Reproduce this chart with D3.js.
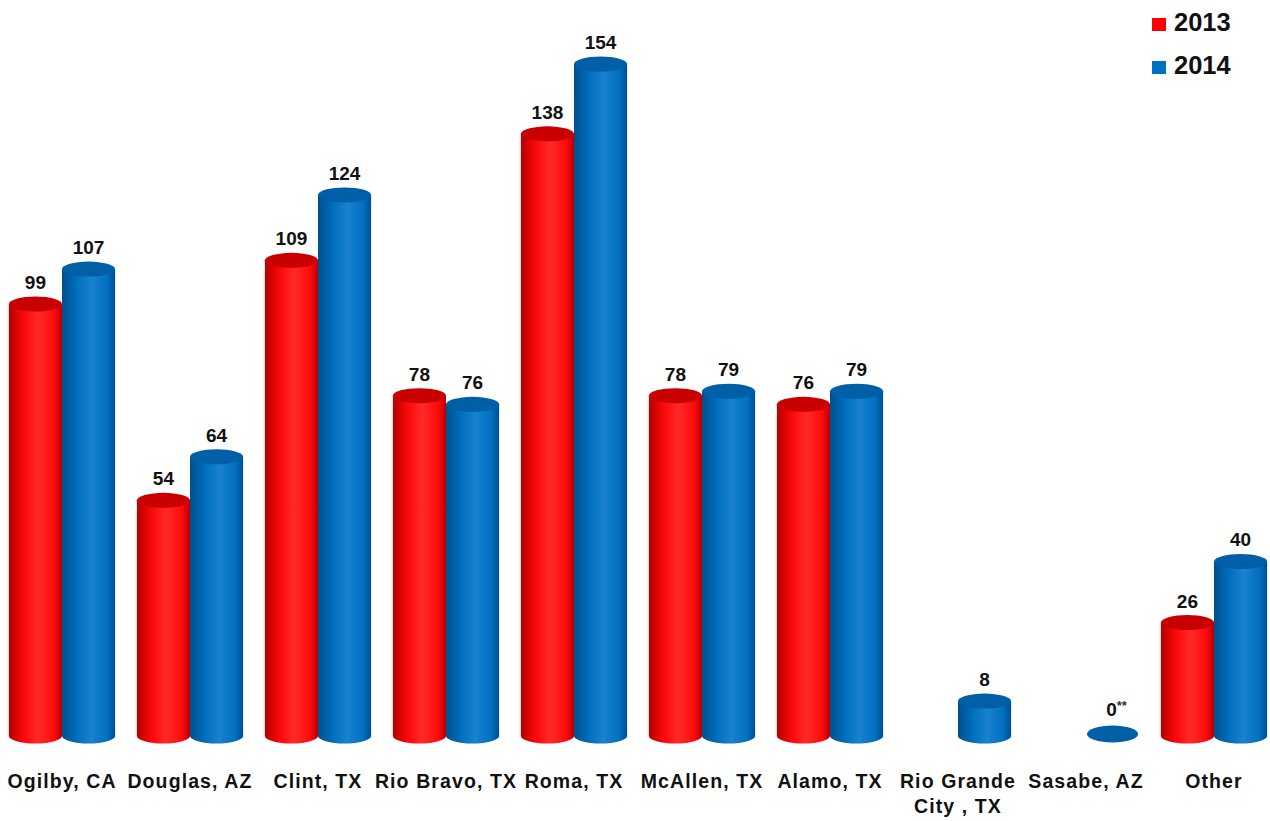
<!DOCTYPE html>
<html>
<head>
<meta charset="utf-8">
<script src="https://cdn.jsdelivr.net/npm/d3@7"></script>
<style>
  html, body { margin: 0; padding: 0; background: #fff; }
  svg { display: block; font-family: "Liberation Sans", Arial, sans-serif; }
</style>
</head>
<body>
<svg id="chart" width="1270" height="821"></svg>
<script>
const categories = ["Ogilby, CA","Douglas, AZ","Clint, TX","Rio Bravo, TX","Roma, TX","McAllen, TX","Alamo, TX","Rio Grande City, TX","Sasabe, AZ","Other"];
const categoryLines = [["Ogilby, CA"],["Douglas, AZ"],["Clint, TX"],["Rio Bravo, TX"],["Roma, TX"],["McAllen, TX"],["Alamo, TX"],["Rio Grande","City , TX"],["Sasabe, AZ"],["Other"]];
const seriesNames = ["2013","2014"];
const values2013 = [99,54,109,78,138,78,76,null,null,26];
const values2014 = [107,64,124,76,154,79,79,8,0,40];
const labelSuffix2014 = ["","","","","","","","","**",""];

const svg = d3.select("#chart");

const x0 = d3.scaleBand().domain(categories).range([-2, 1278]).paddingInner(0.17).paddingOuter(0.085);
const x1 = d3.scaleBand().domain(seriesNames).range([0, x0.bandwidth()]);
const y = d3.scaleLinear().domain([0, 154]).range([736, 64]);

const colors = {
  "2013": {dark:"#b80000", mid:"#ff0a0a", light:"#ff2a2a", top:"#c80000", legend:"#ff0000"},
  "2014": {dark:"#004f8f", mid:"#0070c0", light:"#1a82cf", top:"#005fa6", legend:"#0070c0"}
};

const defs = svg.append("defs");
seriesNames.forEach(s => {
  const c = colors[s];
  const g = defs.append("linearGradient").attr("id","grad"+s).attr("x1","0%").attr("x2","100%").attr("y1","0%").attr("y2","0%");
  g.append("stop").attr("offset","0%").attr("stop-color",c.dark);
  g.append("stop").attr("offset","30%").attr("stop-color",c.mid);
  g.append("stop").attr("offset","55%").attr("stop-color",c.light);
  g.append("stop").attr("offset","85%").attr("stop-color",c.mid);
  g.append("stop").attr("offset","100%").attr("stop-color",c.dark);
});

const ry = 7.5;
const data = [];
categories.forEach((cat, i) => {
  data.push({cat, s:"2013", v:values2013[i], suffix:""});
  data.push({cat, s:"2014", v:values2014[i], suffix:labelSuffix2014[i]});
});
const drawn = data.filter(d => d.v !== null);

const bars = svg.append("g").selectAll("g").data(drawn).join("g");
bars.each(function(d) {
  const g = d3.select(this);
  const left = x0(d.cat) + x1(d.s);
  const w = x1.bandwidth();
  const rx = w / 2;
  const cx = left + rx;
  const yb = y(0), yt = y(d.v);
  if (d.v > 0) {
    g.append("path")
      .attr("d", `M${left},${yt} L${left},${yb} A${rx},${ry} 0 0 0 ${left + w},${yb} L${left + w},${yt} Z`)
      .attr("fill", `url(#grad${d.s})`);
    g.append("ellipse").attr("cx", cx).attr("cy", yt).attr("rx", rx).attr("ry", ry)
      .attr("fill", colors[d.s].top);
  } else {
    g.append("ellipse").attr("cx", cx).attr("cy", yb - 2).attr("rx", rx - 1).attr("ry", ry + 1)
      .attr("fill", colors[d.s].top);
  }
  const t = g.append("text")
    .attr("x", cx + (d.suffix ? 4 : 0)).attr("y", yt - (d.v > 0 ? 15 : 20))
    .attr("text-anchor","middle")
    .attr("font-size", 19).attr("font-weight","bold").attr("fill","#111");
  t.append("tspan").text(d.v);
  if (d.suffix) {
    t.append("tspan").attr("font-size", 13).attr("dy", -6).attr("fill","#333").text(d.suffix);
  }
});

// category labels
const catG = svg.append("g");
categories.forEach((cat, i) => {
  const cx = x0(cat) + x0.bandwidth() / 2;
  const t = catG.append("text")
    .attr("x", cx)
    .attr("y", 788)
    .attr("text-anchor","middle")
    .attr("font-size", 19.5).attr("font-weight","bold").attr("fill","#111")
    .attr("letter-spacing", 1.1);
  categoryLines[i].forEach((ln, j) => {
    t.append("tspan").attr("x", cx).attr("dy", j === 0 ? 0 : 25).text(ln);
  });
});

// legend
const legend = svg.append("g");
seriesNames.forEach((s, i) => {
  const ly = 18 + i * 43;
  legend.append("rect").attr("x", 1152).attr("y", ly).attr("width", 14).attr("height", 13)
    .attr("fill", colors[s].legend);
  legend.append("text").attr("x", 1174).attr("y", ly + 13)
    .attr("font-size", 25.5).attr("font-weight","bold").attr("fill","#111").text(s);
});
</script>
</body>
</html>
